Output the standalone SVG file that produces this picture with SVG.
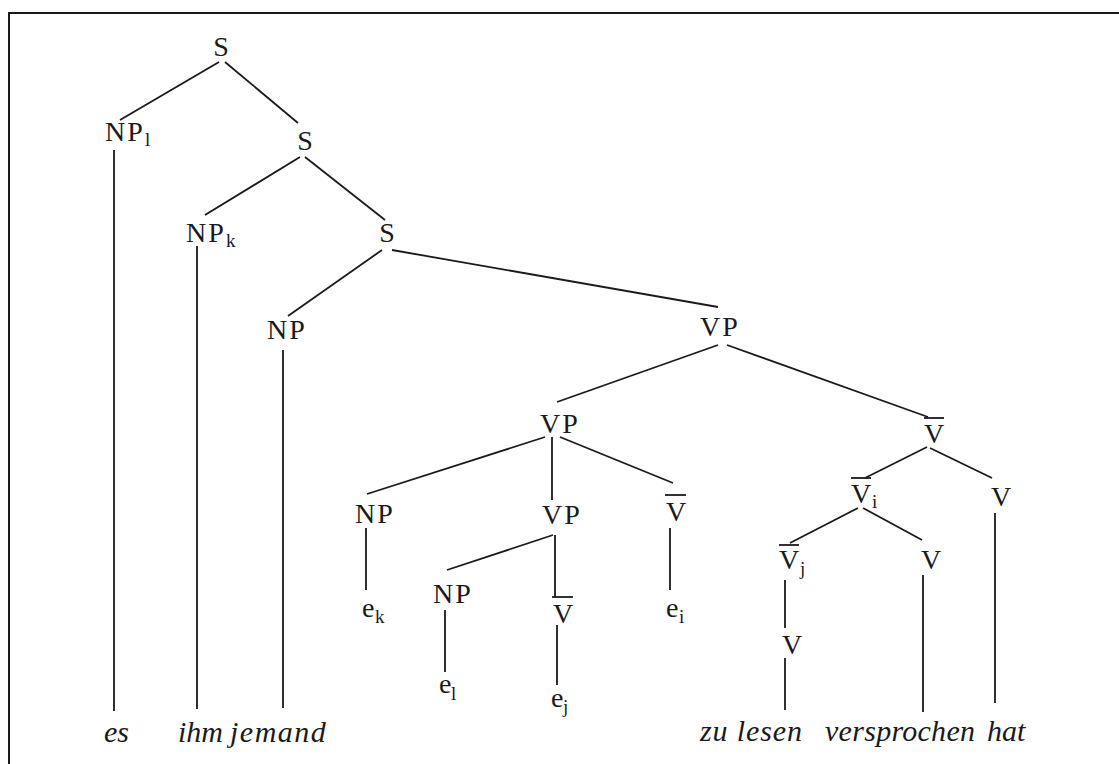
<svg xmlns="http://www.w3.org/2000/svg" width="1119" height="764" viewBox="0 0 1119 764">
<style>
.n{font-family:"Liberation Serif","Times New Roman","DejaVu Serif",serif;font-size:28px;fill:#1a1a1a;letter-spacing:2px}
.v{font-family:"Liberation Serif","Times New Roman","DejaVu Serif",serif;font-size:28px;fill:#1a1a1a}
.s{font-family:"Liberation Serif","Times New Roman","DejaVu Serif",serif;font-size:19px;fill:#1a1a1a}
.w{font-family:"Liberation Serif","Times New Roman","DejaVu Serif",serif;font-size:30px;font-style:italic;fill:#1a1a1a}
.e{stroke:#1a1a1a;stroke-width:1.8;fill:none}
.o{stroke:#1a1a1a;stroke-width:1.8}
</style>
<rect width="1119" height="764" fill="#ffffff"/>
<path d="M9,764 V13 H1119" stroke="#1a1a1a" stroke-width="2" fill="none"/>
<g id="connectors" class="e">
<line x1="219" y1="62" x2="120" y2="120"/>
<line x1="225" y1="62" x2="298" y2="123"/>
<line x1="114" y1="150" x2="114" y2="711"/>
<line x1="300" y1="157" x2="205" y2="215"/>
<line x1="305" y1="157" x2="385" y2="220"/>
<line x1="197" y1="246" x2="197" y2="709"/>
<line x1="382" y1="250" x2="288" y2="316"/>
<line x1="392" y1="250" x2="718" y2="307"/>
<line x1="283" y1="350" x2="283" y2="708"/>
<line x1="718" y1="345" x2="557" y2="402"/>
<line x1="727" y1="345" x2="928" y2="417"/>
<line x1="545" y1="437" x2="367" y2="494"/>
<line x1="552" y1="437" x2="552" y2="500"/>
<line x1="560" y1="437" x2="673" y2="483"/>
<line x1="366" y1="528" x2="366" y2="590"/>
<line x1="553" y1="535" x2="447" y2="570"/>
<line x1="555" y1="535" x2="555" y2="597"/>
<line x1="670" y1="528" x2="670" y2="590"/>
<line x1="445" y1="610" x2="445" y2="672"/>
<line x1="557" y1="625" x2="557" y2="685"/>
<line x1="927" y1="447" x2="865" y2="478"/>
<line x1="930" y1="448" x2="992" y2="478"/>
<line x1="995" y1="513" x2="995" y2="703"/>
<line x1="858" y1="508" x2="790" y2="543"/>
<line x1="863" y1="508" x2="922" y2="540"/>
<line x1="785" y1="580" x2="785" y2="628"/>
<line x1="785" y1="658" x2="785" y2="710"/>
<line x1="923" y1="575" x2="923" y2="712"/>
</g>
<g id="n-s1"><text class="v" x="221" y="56" text-anchor="middle">S</text></g>
<g id="n-npl"><text class="n" x="105" y="141">NP</text><text class="s" x="145" y="146">l</text></g>
<g id="n-s2"><text class="v" x="305" y="150" text-anchor="middle">S</text></g>
<g id="n-npk"><text class="n" x="186" y="242">NP</text><text class="s" x="226" y="247">k</text></g>
<g id="n-s3"><text class="v" x="387" y="242" text-anchor="middle">S</text></g>
<g id="n-np3"><text class="n" x="267" y="339">NP</text></g>
<g id="n-vp1"><text class="n" x="700" y="336">VP</text></g>
<g id="n-vp2"><text class="n" x="540" y="433">VP</text></g>
<g id="n-vbar1"><line class="o" x1="924" y1="418" x2="944" y2="418"/><text class="v" x="934" y="443" text-anchor="middle">V</text></g>
<g id="n-np4"><text class="n" x="355" y="523">NP</text></g>
<g id="n-vp3"><text class="n" x="542" y="524">VP</text></g>
<g id="n-vbar2"><line class="o" x1="665" y1="495" x2="686" y2="495"/><text class="v" x="676" y="521" text-anchor="middle">V</text></g>
<g id="n-vbari"><line class="o" x1="851" y1="478" x2="871" y2="478"/><text class="v" x="861" y="503" text-anchor="middle">V</text><text class="s" x="872" y="508">i</text></g>
<g id="n-v1"><text class="v" x="1001" y="506" text-anchor="middle">V</text></g>
<g id="n-ek"><text class="v" x="362" y="617">e</text><text class="s" x="375" y="623">k</text></g>
<g id="n-np5"><text class="n" x="433" y="603">NP</text></g>
<g id="n-vbar3"><line class="o" x1="552" y1="597" x2="573" y2="597"/><text class="v" x="563" y="623" text-anchor="middle">V</text></g>
<g id="n-ei"><text class="v" x="666" y="617">e</text><text class="s" x="679" y="623">i</text></g>
<g id="n-vbarj"><line class="o" x1="779" y1="545" x2="799" y2="545"/><text class="v" x="789" y="569" text-anchor="middle">V</text><text class="s" x="800" y="575">j</text></g>
<g id="n-v2"><text class="v" x="931" y="569" text-anchor="middle">V</text></g>
<g id="n-el"><text class="v" x="439" y="693">e</text><text class="s" x="451" y="700">l</text></g>
<g id="n-ej"><text class="v" x="551" y="707">e</text><text class="s" x="563" y="713">j</text></g>
<g id="n-v3"><text class="v" x="792" y="654" text-anchor="middle">V</text></g>
<g id="w-es"><text class="w" x="104" y="742">es</text></g>
<g id="w-ihm"><text class="w" x="178" y="742">ihm</text></g>
<g id="w-jemand"><text class="w" x="230" y="742" style="letter-spacing:1.5px">jemand</text></g>
<g id="w-zulesen"><text class="w" x="700" y="741" textLength="102">zu lesen</text></g>
<g id="w-versprochen"><text class="w" x="825" y="741" textLength="150">versprochen</text></g>
<g id="w-hat"><text class="w" x="987" y="741">hat</text></g>
</svg>
